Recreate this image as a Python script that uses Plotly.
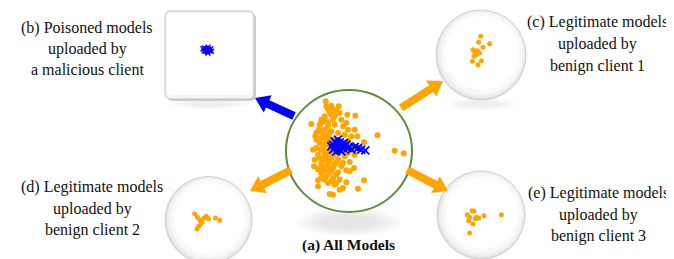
import plotly.graph_objects as go

W, H = 674, 259

# ---------------- data (embedding coordinates per panel) ----------------
# (a) all models: benign (orange) and poisoned (blue)
a_benign_x = [143,160,150,182,175,160,140,130,145,165,185,208,232,100,125,150,170,195,210,230,
              120,135,160,180,200,220,238,112,130,150,165,125,140,160,115,130,148,170,190,210,
              230,258,298,350,377,120,140,160,180,200,215,130,150,170,190,125,140,160,180,205,
              120,145,165,185,205,150,170,195,240,258,155,165,185,130,110,135,155,175,145,160,
              180,200,125,140,155,115,105,108,120,175,195,215,228,210,225,245,205,190,170,155,
              145,168,135,145,150,135,160,140,125,145,165,150,135,165,175,155,140,160,175,150,
              130,115,120,130]
a_benign_y = [55,68,78,70,85,95,100,110,115,110,90,95,98,123,125,130,125,130,140,140,
              145,150,145,150,155,160,160,160,165,160,170,180,185,190,195,200,205,210,205,210,
              215,177,157,203,211,215,222,225,228,220,237,240,245,245,250,255,262,265,268,262,
              292,280,285,290,298,300,305,315,317,292,333,335,320,270,230,232,235,238,215,175,
              180,185,135,140,150,170,200,250,310,195,240,265,255,175,190,195,120,110,100,88,
              70,80,160,170,185,195,200,210,225,230,215,255,250,255,275,270,290,295,300,120,
              120,150,260,285]
a_poison_x = [165,170,175,180,185,190,195,200,175,165,185,205,210,215,220,230,240,250,262,180,
              170,190,160,198]
a_poison_y = [185,195,180,190,200,185,195,190,205,200,178,185,195,190,200,192,195,200,202,170,
              175,205,190,180]

# (b) poisoned models of the malicious client
b_x = [140,145,150,155,148,138,158,152,143,160,135,150]
b_y = [120,125,118,128,132,128,122,124,130,130,122,135]

# (c) benign client 1
c_x = [158,152,185,165,135,140,148,155,138,160,150,133,145]
c_y = [85,103,107,118,125,132,128,135,145,158,170,160,140]

# (d) benign client 2
d_x = [110,118,125,138,145,152,172,185,128,122,117,132]
d_y = [152,163,170,165,160,167,165,172,183,190,198,178]

# (e) benign client 3
e_x = [132,138,118,125,145,152,168,220,122,135,125,142]
e_y = [158,160,170,178,178,180,173,170,188,198,225,182]

ORANGE = "#FFA500"
BLUE = "#0000FF"
GREEN = "#5e8b3e"
FONT = "Liberation Serif"


def px(x):
    return x / W


def py(y):
    return 1 - y / H


fig = go.Figure()

# panel axes: (name, pixel box x0,x1,y0,y1)
panels = {
    "a": (270, 410, 75, 235),
    "b": (150, 270, 0, 100),
    "c": (420, 530, 0, 100),
    "d": (150, 250, 155, 245),
    "e": (420, 520, 150, 250),
}
axis_ids = {}
for i, (k, (x0, x1, y0, y1)) in enumerate(panels.items()):
    n = i + 1
    xa = "xaxis" if n == 1 else f"xaxis{n}"
    ya = "yaxis" if n == 1 else f"yaxis{n}"
    xr = "x" if n == 1 else f"x{n}"
    yr = "y" if n == 1 else f"y{n}"
    axis_ids[k] = (xr, yr)
    fig.update_layout(**{
        xa: dict(domain=[px(x0), px(x1)], range=[0, 3 * (x1 - x0)], visible=False,
                 anchor=yr, fixedrange=True),
        ya: dict(domain=[py(y1), py(y0)], range=[3 * (y1 - y0), 0], visible=False,
                 anchor=xr, fixedrange=True),
    })


def dots(xs, ys, k, size, color=ORANGE):
    xr, yr = axis_ids[k]
    fig.add_trace(go.Scatter(x=xs, y=ys, mode="markers", xaxis=xr, yaxis=yr,
                             marker=dict(size=size, color=color, line=dict(width=0)),
                             showlegend=False, hoverinfo="skip"))


def crosses(xs, ys, k, size, width):
    xr, yr = axis_ids[k]
    fig.add_trace(go.Scatter(x=xs, y=ys, mode="markers", xaxis=xr, yaxis=yr,
                             marker=dict(symbol="x-thin", size=size,
                                         line=dict(width=width, color=BLUE)),
                             showlegend=False, hoverinfo="skip"))


dots(a_benign_x, a_benign_y, "a", 6)
crosses(a_poison_x, a_poison_y, "a", 8, 1.8)
crosses(b_x, b_y, "b", 5, 1.4)
dots(c_x, c_y, "c", 5)
dots(d_x, d_y, "d", 5)
dots(e_x, e_y, "e", 5)

shapes = []


def circle(cx, cy, r, fill, line, lw, ry=None):
    ry = r if ry is None else ry
    shapes.append(dict(type="circle", xref="paper", yref="paper",
                       x0=px(cx - r), x1=px(cx + r), y0=py(cy + ry), y1=py(cy - ry),
                       fillcolor=fill, line=dict(color=line, width=lw), layer="below"))


def shadow(cx, cy, rx, ry, a=0.025):
    for k in range(4):
        shapes.append(dict(type="circle", xref="paper", yref="paper",
                           x0=px(cx - rx + k * rx * 0.15), x1=px(cx + rx - k * rx * 0.15),
                           y0=py(cy + ry - k * ry * 0.15), y1=py(cy - ry + k * ry * 0.15),
                           fillcolor=f"rgba(0,0,0,{a})", line=dict(width=0), layer="below"))


def sphere(cx, cy, r):
    shadow(cx, cy + r + 4, r * 0.8, 6, 0.015)
    circle(cx, cy, r, "#e2e2e2", "#cfcfcf", 1)
    circle(cx + 0.5, cy - 0.8, r - 1.5, "#f0f0f0", "rgba(0,0,0,0)", 0)
    circle(cx + 1, cy - 1.5, r - 4, "#f9f9f9", "rgba(0,0,0,0)", 0)
    circle(cx + 1, cy - 2, r - 8, "#ffffff", "rgba(0,0,0,0)", 0)


# main circle
shadow(341, 214, 52, 14)
circle(341, 143, 63, "#ffffff", GREEN, 2, ry=61)

# small spheres
sphere(473, 47, 45)
sphere(200.5, 212, 43.5)
sphere(473, 207, 44)


# rounded box (b)
def rrect(x0, y0, x1, y1, r, fill, line, lw):
    p = (f"M {px(x0 + r)} {py(y0)} L {px(x1 - r)} {py(y0)} "
         f"Q {px(x1)} {py(y0)} {px(x1)} {py(y0 + r)} L {px(x1)} {py(y1 - r)} "
         f"Q {px(x1)} {py(y1)} {px(x1 - r)} {py(y1)} L {px(x0 + r)} {py(y1)} "
         f"Q {px(x0)} {py(y1)} {px(x0)} {py(y1 - r)} L {px(x0)} {py(y0 + r)} "
         f"Q {px(x0)} {py(y0)} {px(x0 + r)} {py(y0)} Z")
    shapes.append(dict(type="path", path=p, xref="paper", yref="paper",
                       fillcolor=fill, line=dict(color=line, width=lw), layer="below"))


shadow(201, 96, 40, 5, 0.015)
rrect(159, 5, 248, 93, 6, "#cdcdcd", "rgba(0,0,0,0)", 0)
rrect(157, 3, 246, 91, 6, "#f4f4f4", "#c4c4c4", 1)
rrect(159, 5, 244, 87, 5, "#ffffff", "rgba(0,0,0,0)", 0)


# arrows as polygons
def arrow(tail, tip, color, w=4.0, hw=9.5, hl=14.0):
    import math
    dx, dy = tip[0] - tail[0], tip[1] - tail[1]
    L = math.hypot(dx, dy)
    ux, uy = dx / L, dy / L
    nx, ny = -uy, ux
    bx, by = tip[0] - ux * hl, tip[1] - uy * hl
    pts = [(tail[0] + nx * w, tail[1] + ny * w), (bx + nx * w, by + ny * w),
           (bx + nx * hw, by + ny * hw), tip, (bx - nx * hw, by - ny * hw),
           (bx - nx * w, by - ny * w), (tail[0] - nx * w, tail[1] - ny * w)]
    p = "M " + " L ".join(f"{px(x)} {py(y)}" for x, y in pts) + " Z"
    shapes.append(dict(type="path", path=p, xref="paper", yref="paper",
                       fillcolor=color, line=dict(width=0), layer="below"))


arrow((286, 108), (247, 90), BLUE)
arrow((393, 100), (435, 73), ORANGE)
arrow((283, 162), (242, 183), ORANGE)
arrow((399, 162), (440, 183), ORANGE)

fig.update_layout(shapes=shapes)

# labels
labels = [
    (79, [20, 41, 62], ["(b) Poisoned models", "uploaded by", "a malicious client"]),
    (589, [14, 36, 58], ["(c) Legitimate models", "uploaded by", "benign client 1"]),
    (84, [179, 201, 222], ["(d) Legitimate models", "uploaded by", "benign client 2"]),
    (590, [185, 207, 228], ["(e) Legitimate models", "uploaded by", "benign client 3"]),
]
ann = []
for cx, ys, texts in labels:
    for y, t in zip(ys, texts):
        ann.append(dict(x=px(cx), y=py(y), xref="paper", yref="paper", text=t,
                        showarrow=False, xanchor="center", yanchor="middle",
                        font=dict(family=FONT, size=16, color="#111111")))
ann.append(dict(x=px(340), y=py(237), xref="paper", yref="paper", text="<b>(a) All Models</b>",
                showarrow=False, xanchor="center", yanchor="middle",
                font=dict(family=FONT, size=15.5, color="#111111")))

fig.update_layout(annotations=ann, width=W, height=H,
                  margin=dict(l=0, r=0, t=0, b=0),
                  paper_bgcolor="white", plot_bgcolor="rgba(0,0,0,0)")

fig.write_html("out.html")
